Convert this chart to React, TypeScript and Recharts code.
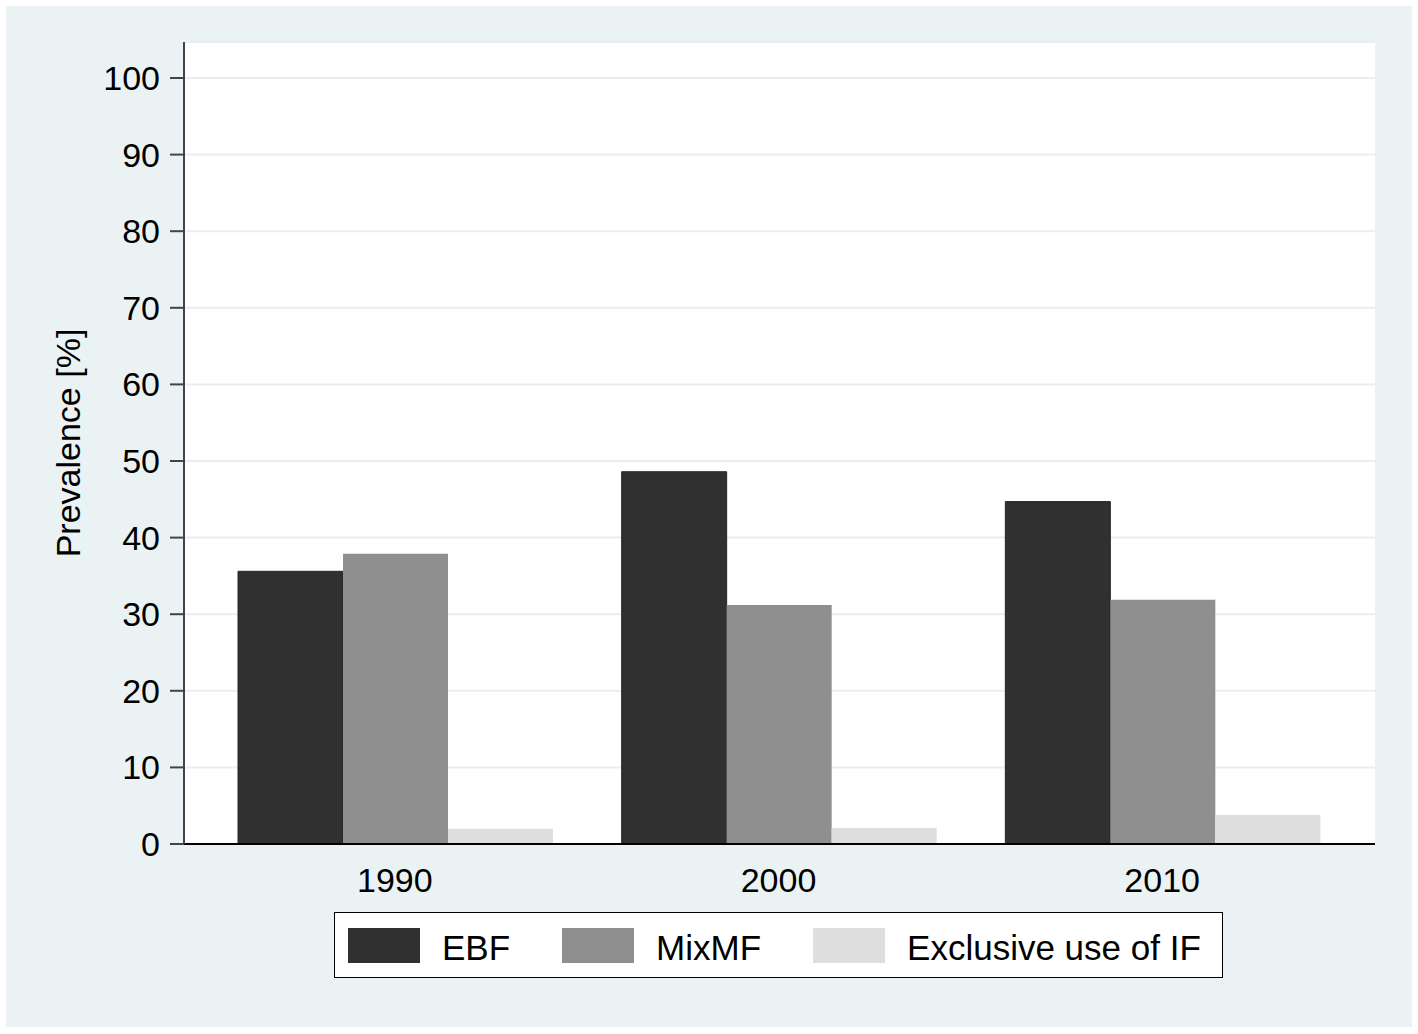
import React from 'react';
import { BarChart, Bar, XAxis, YAxis, CartesianGrid, Legend } from 'recharts';

const years = ['1990', '2000', '2010'];
const ebf = [35.6, 48.6, 44.7];
const mixmf = [37.9, 31.2, 31.9];
const exclusiveIF = [2.0, 2.1, 3.8];
const yTicks = [0, 10, 20, 30, 40, 50, 60, 70, 80, 90, 100];

const seriesNames = ['EBF', 'MixMF', 'Exclusive use of IF'];
const seriesColors = ['#303030', '#8f8f8f', '#dedede'];

const data = years.map((year, i) => ({
  year,
  ebf: ebf[i],
  mixmf: mixmf[i],
  exclusiveIF: exclusiveIF[i],
}));

const FONT = '"Liberation Sans", Arial, sans-serif';
const BG = '#eaf2f3';

function LegendBox() {
  return (
    <div
      style={{
        boxSizing: 'border-box',
        width: '100%',
        height: '100%',
        background: '#fff',
        border: '1.5px solid #000',
        display: 'flex',
        alignItems: 'center',
        paddingLeft: 13,
        fontFamily: FONT,
        fontSize: 35,
        color: '#000',
      }}
    >
      {seriesNames.map((name, i) => (
        <div key={name} style={{ display: 'flex', alignItems: 'center', marginRight: i < 2 ? 52 : 0 }}>
          <div style={{ width: 72, height: 35, background: seriesColors[i], marginRight: 22 }} />
          <span style={{ position: 'relative', top: 3 }}>{name}</span>
        </div>
      ))}
    </div>
  );
}

function YLabel(props: any) {
  const vb = props.viewBox || {};
  const cy = vb.y + vb.height / 2;
  const x = 80;
  return (
    <text
      x={x}
      y={cy}
      transform={`rotate(-90, ${x}, ${cy})`}
      textAnchor="middle"
      fontFamily={FONT}
      fontSize={34}
      fill="#000"
    >
      Prevalence [%]
    </text>
  );
}

export default function App() {
  return (
    <div style={{ position: 'absolute', left: 0, top: 0, width: 1418, height: 1034, background: '#fff' }}>
      <div style={{ position: 'absolute', left: 6, top: 6, right: 6, bottom: 7, background: BG }} />
      <div style={{ position: 'absolute', left: 0, top: 0 }}>
        <BarChart
          width={1418}
          height={1034}
          data={data}
          margin={{ top: 42, right: 43, left: 0, bottom: 130 }}
          barCategoryGap={35}
          barGap={0}
        >
          <CartesianGrid vertical={false} fill="#fff" stroke="#e6eff1" strokeWidth={2} />
          <XAxis
            dataKey="year"
            height={60}
            padding={{ left: 19, right: 21 }}
            tickLine={false}
            tickSize={0}
            tickMargin={24}
            axisLine={{ stroke: '#000', strokeWidth: 2 }}
            tick={{ fill: '#000', fontSize: 34, fontFamily: FONT }}
          />
          <YAxis
            width={184}
            domain={[0, 104.7]}
            ticks={yTicks}
            interval={0}
            tickSize={14}
            tickMargin={10}
            axisLine={{ stroke: '#444', strokeWidth: 2 }}
            tickLine={{ stroke: '#444', strokeWidth: 2 }}
            tick={{ fill: '#000', fontSize: 34, fontFamily: FONT }}
            label={<YLabel />}
          />
          <Legend
            layout="horizontal"
            verticalAlign="middle"
            align="center"
            content={() => <LegendBox />}
            wrapperStyle={{ left: 334, top: 912, width: 889, height: 66 }}
          />
          <Bar dataKey="ebf" name="EBF" fill={seriesColors[0]} stroke="#262626" strokeWidth={1} isAnimationActive={false} />
          <Bar dataKey="mixmf" name="MixMF" fill={seriesColors[1]} isAnimationActive={false} />
          <Bar dataKey="exclusiveIF" name="Exclusive use of IF" fill={seriesColors[2]} isAnimationActive={false} />
        </BarChart>
      </div>
    </div>
  );
}
